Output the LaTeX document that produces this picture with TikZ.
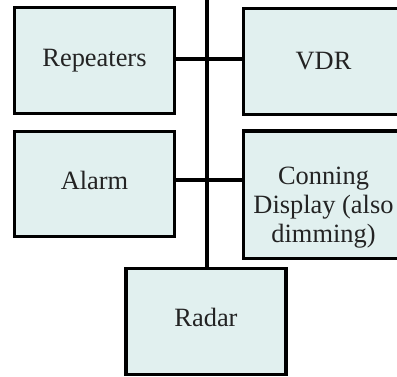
\documentclass[tikz,border=0pt]{standalone}
\usepackage{fontspec}
\setmainfont{Liberation Serif}
\usepackage{tikz}
\usetikzlibrary{calc}
\definecolor{boxfill}{RGB}{225,240,239}
\definecolor{boxtext}{RGB}{35,35,35}

\tikzset{
	unitbox/.style={draw=black, fill=boxfill, line width=3.6pt, minimum width=160pt,
		minimum height=106pt, inner sep=0pt, text=boxtext, align=center,
		font=\fontsize{26.4}{29}\selectfont},
	bus/.style={line width=3.2pt, draw=black}
}

\begin{document}
\begin{tikzpicture}[x=1pt, y=-1pt]
	\useasboundingbox (0,0) rectangle (397,376);
	\clip (0,0) rectangle (397,376);
	%%%%%
	\node[unitbox] (repeaters) at (94.5, 60.5) {Repeaters};
	\node[unitbox] (vdr) at (323.5, 61.5) {VDR};
	\node[unitbox, minimum height=105pt] (alarm) at (94.5, 184) {};
	\node[unitbox, minimum height=127.5pt] (conning) at (323.5, 194.75) {};
	\node[unitbox] (radar) at (206, 321.5) {};
	%%%%%
	\node[font=\fontsize{26.4}{29}\selectfont, text=boxtext] (alarmtxt) at ([yshift=4pt]alarm.center) {Alarm};
	\node[font=\fontsize{26.4}{29}\selectfont, text=boxtext, align=center] (conningtxt) at ([yshift=-13pt]conning.center) {Conning\\Display (also\\dimming)};
	\node[font=\fontsize{26.4}{29}\selectfont, text=boxtext] (radartxt) at ([yshift=4pt]radar.center) {Radar};
	%%%%%
	\coordinate (top) at (207, 0);
	\draw[bus] (top) -- (top |- radar.north);
	\draw[bus] ([yshift=1.5pt]repeaters.east) -- ([yshift=1.5pt]repeaters.east -| vdr.west);
	\draw[bus] ([yshift=4pt]alarm.east) -- ([yshift=4pt]alarm.east -| conning.west);
\end{tikzpicture}
\end{document}
